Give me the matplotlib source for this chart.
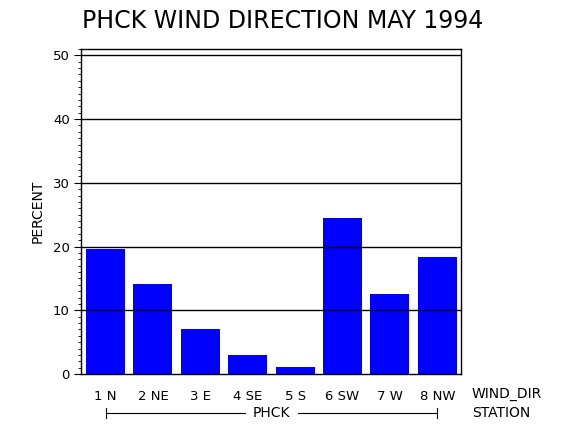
import matplotlib
matplotlib.use("Agg")
import matplotlib.pyplot as plt
from matplotlib.ticker import MultipleLocator
import matplotlib.transforms as mtransforms

# Data
directions = ["1 N", "2 NE", "3 E", "4 SE", "5 S", "6 SW", "7 W", "8 NW"]
percent = [19.6, 14.1, 7.05, 3.0, 1.1, 24.45, 12.5, 18.3]
station = "PHCK"
title = "PHCK WIND DIRECTION MAY 1994"
yticks = [0, 10, 20, 30, 40, 50]

plt.rcParams['font.family'] = ['DejaVu Sans']

W, H = 570, 430
fig = plt.figure(figsize=(W / 100, H / 100), dpi=100)
ax_l, ax_r, ax_b, ax_t = 81, 461, 374, 49
ax = fig.add_axes([ax_l / W, 1 - ax_b / H, (ax_r - ax_l) / W, (ax_b - ax_t) / H])

x = list(range(1, len(directions) + 1))
ax.bar(x, percent, width=0.82, color="#0000FF", zorder=1)
for v in yticks[1:]:
    ax.axhline(v, color="black", linewidth=1.0, zorder=3)

ax.set_xlim(0.483, 8.5)
ax.set_ylim(0, 51)
ax.set_yticks(yticks)
ax.set_yticklabels([str(v) for v in yticks], fontsize=9.5)
ax.yaxis.set_minor_locator(MultipleLocator(1))
ax.tick_params(axis="y", which="major", direction="out", length=5, width=0.8, pad=3)
ax.tick_params(axis="y", which="minor", direction="out", length=2.5, width=0.6)
ax.set_xticks(x)
ax.set_xticklabels(directions, fontsize=9.5)
ax.tick_params(axis="x", which="both", length=0, pad=11.5)
for s in ax.spines.values():
    s.set_linewidth(1.0)
    s.set_color("black")

# Axis-side texts
ax.text(-0.113, 0.5, "PERCENT", rotation=90, ha="center", va="center",
        fontsize=10, transform=ax.transAxes)
ax.text((472 - ax_l) / (ax_r - ax_l), (ax_b - 394) / (ax_b - ax_t), "WIND_DIR",
        ha="left", va="center", fontsize=10, transform=ax.transAxes)
ax.text((472 - ax_l) / (ax_r - ax_l), (ax_b - 413) / (ax_b - ax_t), "STATION",
        ha="left", va="center", fontsize=10, transform=ax.transAxes)

# Station bracket (line broken around the station name)
trans = mtransforms.blended_transform_factory(ax.transData, ax.transAxes)
yb = (ax_b - 413) / (ax_b - ax_t)
xc = (x[0] + x[-1]) / 2
gap = 0.56
for xa, xb in ((x[0], xc - gap), (xc + gap, x[-1])):
    ax.plot([xa, xb], [yb, yb], color="black", linewidth=0.8,
            transform=trans, clip_on=False)
for xe in (x[0], x[-1]):
    ax.plot([xe, xe], [yb - 0.015, yb + 0.015], color="black", linewidth=0.8,
            transform=trans, clip_on=False)
ax.text(xc, yb, station, ha="center", va="center", fontsize=10, transform=trans)

fig.text(283 / W, 1 - 21 / H, title, ha="center", va="center", fontsize=17)

fig.savefig("out.png", dpi=100)
